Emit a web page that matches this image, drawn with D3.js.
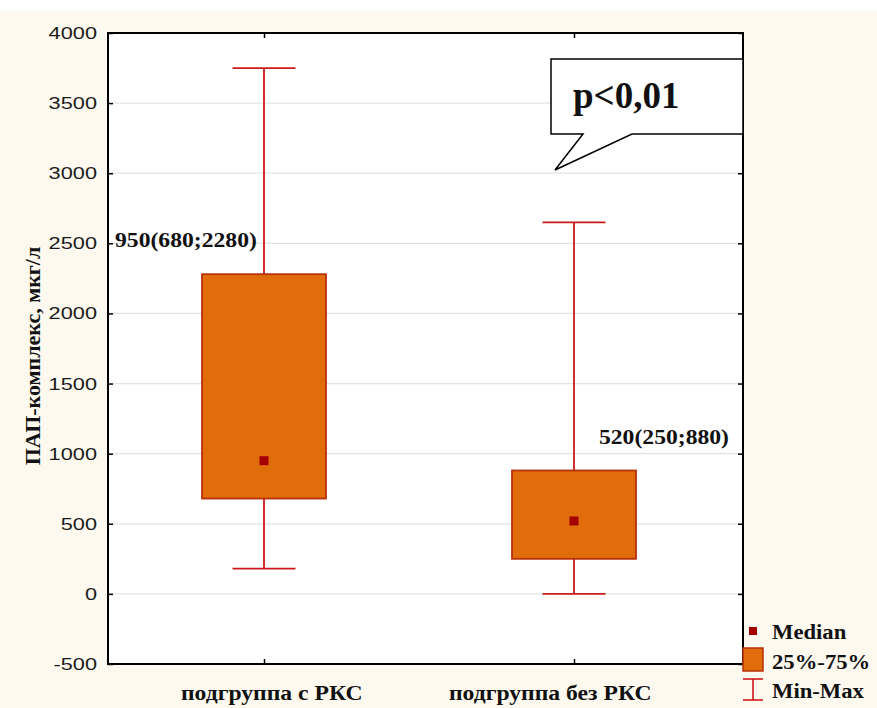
<!DOCTYPE html>
<html>
<head>
<meta charset="utf-8">
<script src="https://cdn.jsdelivr.net/npm/d3@7"></script>
<style>
  html, body { margin: 0; padding: 0; background: #fdf9ef; }
  svg { display: block; }
</style>
</head>
<body>
<svg id="chart" width="877" height="708"></svg>
<script>
// Groups and their distribution summaries (ПАП-комплекс, мкг/л)
const groups = ["подгруппа с РКС", "подгруппа без РКС"];
const medians = [950, 520];
const q1 = [680, 250];
const q3 = [2280, 880];
const mins = [180, 0];
const maxs = [3750, 2650];
const yTicks = [-500, 0, 500, 1000, 1500, 2000, 2500, 3000, 3500, 4000];
const legendItems = ["Median", "25%-75%", "Min-Max"];
const pValueText = "p<0,01";
const yTitle = "ПАП-комплекс, мкг/л";

const svg = d3.select("#chart");
const W = 877, H = 708;
const box = { left: 108, top: 33, right: 743, bottom: 664 };

const serif = "'Liberation Serif', 'Times New Roman', serif";
const sans = "'Liberation Sans', Arial, sans-serif";
const boxFill = "#e06c0b";
const boxStroke = "#b8310a";
const whiskerColor = "#cc1a1a";
const medianColor = "#a30000";

// text drawn slightly widened horizontally
function wideText(parent, x, y, str, opt) {
  const g = parent.append("g").attr("transform", `translate(${x},${y}) scale(${opt.sx || 1},1)`);
  return g.append("text")
    .attr("x", 0).attr("y", 0)
    .attr("text-anchor", opt.anchor || "start")
    .attr("font-family", opt.family || serif)
    .attr("font-size", opt.size)
    .attr("font-weight", opt.weight || "bold")
    .attr("fill", opt.fill || "#111")
    .text(str);
}

// page background: thin white strip on top, cream below
svg.append("rect").attr("x", 0).attr("y", 0).attr("width", W).attr("height", H).attr("fill", "#fdf9ef");
svg.append("rect").attr("x", 0).attr("y", 0).attr("width", W).attr("height", 11).attr("fill", "#ffffff");

const y = d3.scaleLinear().domain([-500, 4000]).range([box.bottom, box.top]);
const x = d3.scalePoint().domain(groups).range([109, 729]).padding(0.5);
const boxW = 124, capW = 63, medSize = 9;

// plot area
svg.append("rect")
  .attr("x", box.left).attr("y", box.top)
  .attr("width", box.right - box.left).attr("height", box.bottom - box.top)
  .attr("fill", "#ffffff");

// horizontal gridlines
svg.append("g").selectAll("line").data(yTicks.filter(t => t > -500 && t < 4000)).join("line")
  .attr("x1", box.left).attr("x2", box.right)
  .attr("y1", d => y(d)).attr("y2", d => y(d))
  .attr("stroke", "#e3e3e3").attr("stroke-width", 1.2);

// axes with inward ticks on all four sides
const gLeft = svg.append("g").attr("transform", `translate(${box.left},0)`)
  .call(d3.axisLeft(y).tickValues(yTicks).tickSize(-5).tickFormat(""));
const gRight = svg.append("g").attr("transform", `translate(${box.right},0)`)
  .call(d3.axisRight(y).tickValues(yTicks).tickSize(-5).tickFormat(""));
const gTop = svg.append("g").attr("transform", `translate(0,${box.top})`)
  .call(d3.axisTop(x).tickSize(-5).tickFormat(""));
const gBottom = svg.append("g").attr("transform", `translate(0,${box.bottom})`)
  .call(d3.axisBottom(x).tickSize(-5).tickFormat(""));

[gLeft, gRight, gTop, gBottom].forEach(g => {
  g.select(".domain").remove();
  g.selectAll(".tick line").attr("stroke", "#000").attr("stroke-width", 1.5);
});

// y tick labels
const gYLab = svg.append("g");
yTicks.forEach(t => {
  wideText(gYLab, 97, y(t) + 6, String(t), { family: sans, size: 17, weight: "normal", anchor: "end", sx: 1.28, fill: "#1a1a1a" });
});

// category labels
const gXLab = svg.append("g");
const xLabelLeft = [181, 449];
groups.forEach((g, i) => {
  wideText(gXLab, xLabelLeft[i], 700, g, { size: 21.5, sx: 1.1 });
});

// whiskers, boxes and medians
const gBoxes = svg.append("g");
groups.forEach((g, i) => {
  const cx = x(g);
  gBoxes.append("line")
    .attr("x1", cx).attr("x2", cx).attr("y1", y(mins[i])).attr("y2", y(maxs[i]))
    .attr("stroke", whiskerColor).attr("stroke-width", 1.8);
  [mins[i], maxs[i]].forEach(v => {
    gBoxes.append("line")
      .attr("x1", cx - capW / 2).attr("x2", cx + capW / 2)
      .attr("y1", y(v)).attr("y2", y(v))
      .attr("stroke", whiskerColor).attr("stroke-width", 1.8);
  });
  gBoxes.append("rect")
    .attr("x", cx - boxW / 2).attr("y", y(q3[i]))
    .attr("width", boxW).attr("height", y(q1[i]) - y(q3[i]))
    .attr("fill", boxFill).attr("stroke", boxStroke).attr("stroke-width", 1.8);
  gBoxes.append("rect")
    .attr("x", cx - medSize / 2).attr("y", y(medians[i]) - medSize / 2)
    .attr("width", medSize).attr("height", medSize)
    .attr("fill", medianColor);
});

// plot frame
svg.append("rect")
  .attr("x", box.left).attr("y", box.top)
  .attr("width", box.right - box.left).attr("height", box.bottom - box.top)
  .attr("fill", "none").attr("stroke", "#000").attr("stroke-width", 2);

// value annotations: median (Q1;Q3)
const gAnn = svg.append("g");
wideText(gAnn, 115, 247, `${medians[0]}(${q1[0]};${q3[0]})`, { size: 21.5, sx: 1.1 });
wideText(gAnn, 729, 444, `${medians[1]}(${q1[1]};${q3[1]})`, { size: 21.5, sx: 1.1, anchor: "end" });

// y-axis title
svg.append("text")
  .attr("transform", `translate(40,356) rotate(-90)`)
  .attr("text-anchor", "middle")
  .attr("font-family", serif).attr("font-size", 22).attr("font-weight", "bold").attr("fill", "#111")
  .text(yTitle);

// speech-bubble callout with significance level
const cb = { l: 551, t: 59, r: 743, b: 134 };
svg.append("path")
  .attr("d", `M${cb.l},${cb.t} L${cb.r},${cb.t} L${cb.r},${cb.b} L632,${cb.b} L555,170 L583,${cb.b} L${cb.l},${cb.b} Z`)
  .attr("fill", "#ffffff").attr("stroke", "#000").attr("stroke-width", 1.5);
svg.append("text")
  .attr("x", 573).attr("y", 108)
  .attr("font-family", serif).attr("font-size", 37).attr("font-weight", "bold").attr("fill", "#111")
  .text(pValueText);

// legend
const lg = svg.append("g");
const lx = 753;
lg.append("rect").attr("x", lx - 4).attr("y", 627).attr("width", 8).attr("height", 8).attr("fill", medianColor);
lg.append("rect").attr("x", lx - 10).attr("y", 648).attr("width", 20).attr("height", 23)
  .attr("fill", boxFill).attr("stroke", boxStroke).attr("stroke-width", 1.5);
lg.append("line").attr("x1", lx).attr("x2", lx).attr("y1", 679).attr("y2", 700).attr("stroke", whiskerColor).attr("stroke-width", 1.6);
lg.append("line").attr("x1", lx - 10).attr("x2", lx + 10).attr("y1", 679).attr("y2", 679).attr("stroke", whiskerColor).attr("stroke-width", 1.6);
lg.append("line").attr("x1", lx - 10).attr("x2", lx + 10).attr("y1", 700).attr("y2", 700).attr("stroke", whiskerColor).attr("stroke-width", 1.6);
legendItems.forEach((d, i) => {
  wideText(lg, 772, 639 + i * 29.5, d, { size: 21, sx: 1.08 });
});
</script>
</body>
</html>
